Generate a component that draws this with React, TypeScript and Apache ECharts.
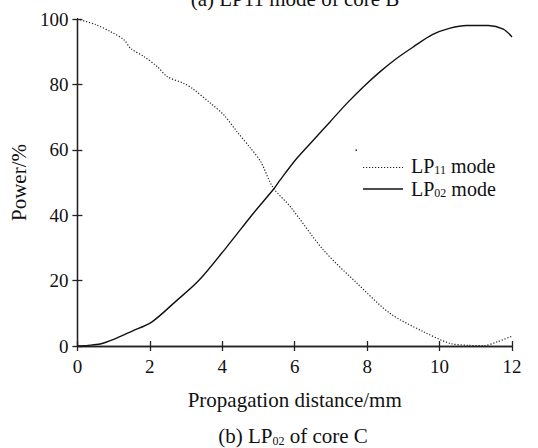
import React, { useEffect, useRef } from "react";
import * as echarts from "echarts";

const lp11X = [0, 0.5, 0.92, 1.29, 1.47, 1.84, 2.21, 2.48, 2.94, 3.17, 3.68, 4.05, 4.41, 4.78, 5.06, 5.4, 5.88, 6.79, 7.72, 8.63, 9.55, 10.29, 10.8, 11.21, 11.6, 12];
const lp11Y = [100, 98.3, 96.1, 93.6, 91.0, 88.5, 85.4, 82.4, 80.3, 78.8, 74.2, 70.6, 65.5, 60.5, 56.4, 48.5, 42.6, 29.4, 19.2, 10, 4.4, 0.8, 0.2, 0.1, 1.3, 3];
const lp02X = [0, 0.3, 0.63, 1.0, 1.5, 2.06, 2.7, 3.35, 4.13, 4.86, 5.42, 5.6, 6.06, 6.52, 6.98, 7.44, 7.9, 8.36, 8.82, 9.28, 9.8, 10.29, 10.75, 11.35, 11.76, 12];
const lp02Y = [0, 0.2, 0.6, 2, 4.5, 7.4, 13.5, 20, 30.4, 40.6, 48, 50.8, 57.4, 63, 68.6, 74.2, 79.3, 83.9, 88, 91.5, 95.2, 97.2, 98, 98, 96.9, 94.5];
const seriesNames = ["LP11 mode", "LP02 mode"];
const legendLabels = ["LP{sub|11} mode", "LP{sub|02} mode"];
const xTicks = [0, 2, 4, 6, 8, 10, 12];
const yTicks = [0, 20, 40, 60, 80, 100];

const FONT = "Liberation Serif";
const INK = "#111";

export default function App() {
  const ref = useRef<HTMLDivElement>(null);
  useEffect(() => {
    if (!ref.current) return;
    const chart = echarts.init(ref.current, undefined, { renderer: "svg" });
    const axisLine = { show: true, lineStyle: { color: "#222", width: 1.3 } };
    const tick = { show: true, inside: true, length: 5, lineStyle: { color: "#222", width: 1.3 } };
    const labelStyle = { fontFamily: FONT, fontSize: 19, color: INK };
    const nameStyle = { fontFamily: FONT, fontSize: 21, color: INK };
    const subRich = { sub: { fontFamily: FONT, fontSize: 12, fill: INK, verticalAlign: "bottom", padding: [8, 0, 0, 0] } };
    const dotted = [1.2, 1.8];
    chart.setOption({
      animation: false,
      backgroundColor: "#fff",
      grid: { left: 77, right: 26, top: 19, bottom: 102 },
      xAxis: [
        {
          type: "value", min: xTicks[0], max: xTicks[xTicks.length - 1], interval: 2,
          axisLine, axisTick: tick, splitLine: { show: false },
          axisLabel: { ...labelStyle, margin: 11 },
          name: "Propagation distance/mm", nameLocation: "middle", nameGap: 43,
          nameTextStyle: nameStyle,
        },
        {
          type: "value", position: "top", min: 0, max: 12, interval: 2,
          axisLine, axisTick: tick, axisLabel: { show: false }, splitLine: { show: false },
        },
      ],
      yAxis: [
        {
          type: "value", min: yTicks[0], max: yTicks[yTicks.length - 1], interval: 20,
          axisLine, axisTick: tick, splitLine: { show: false },
          axisLabel: { ...labelStyle, margin: 9 },
          name: "Power/%", nameLocation: "middle", nameGap: 46,
          nameTextStyle: nameStyle,
        },
        {
          type: "value", position: "right", min: 0, max: 100, interval: 20,
          axisLine, axisTick: tick, axisLabel: { show: false }, splitLine: { show: false },
        },
      ],
      graphic: [
        {
          type: "text", x: 295, y: 9,
          style: { text: "(a) LP11 mode of core B", fontFamily: FONT, fontSize: 21, fill: INK, align: "center", verticalAlign: "bottom" },
        },
        {
          type: "text", x: 293, y: 436,
          style: {
            text: "(b) LP{sub|02} of core C", fontFamily: FONT, fontSize: 21, fill: INK,
            align: "center", verticalAlign: "middle", rich: subRich,
          },
        },
        { type: "rect", shape: { x: 355.5, y: 149.5, width: 1.5, height: 1.5 }, style: { fill: "#333" } },
        {
          type: "line", shape: { x1: 363, y1: 167.5, x2: 403, y2: 167.5 },
          style: { stroke: "#222", lineWidth: 1.2, lineDash: dotted },
        },
        {
          type: "line", shape: { x1: 363, y1: 189, x2: 403, y2: 189 },
          style: { stroke: INK, lineWidth: 1.4 },
        },
        {
          type: "text", x: 411, y: 166,
          style: { text: legendLabels[0], fontFamily: FONT, fontSize: 20, fill: INK, verticalAlign: "middle", rich: subRich },
        },
        {
          type: "text", x: 411, y: 189,
          style: { text: legendLabels[1], fontFamily: FONT, fontSize: 20, fill: INK, verticalAlign: "middle", rich: subRich },
        },
      ],
      series: [
        {
          name: seriesNames[0], type: "line", showSymbol: false, symbol: "none", smooth: 0.3,
          data: lp11X.map((x, i) => [x, lp11Y[i]]),
          lineStyle: { color: "#222", width: 1.2, type: dotted },
        },
        {
          name: seriesNames[1], type: "line", showSymbol: false, symbol: "none", smooth: 0.3,
          data: lp02X.map((x, i) => [x, lp02Y[i]]),
          lineStyle: { color: INK, width: 1.4, type: "solid" },
        },
      ],
    });
    return () => chart.dispose();
  }, []);
  return <div ref={ref} style={{ position: "fixed", left: 0, top: 0, width: 538, height: 448 }} />;
}
